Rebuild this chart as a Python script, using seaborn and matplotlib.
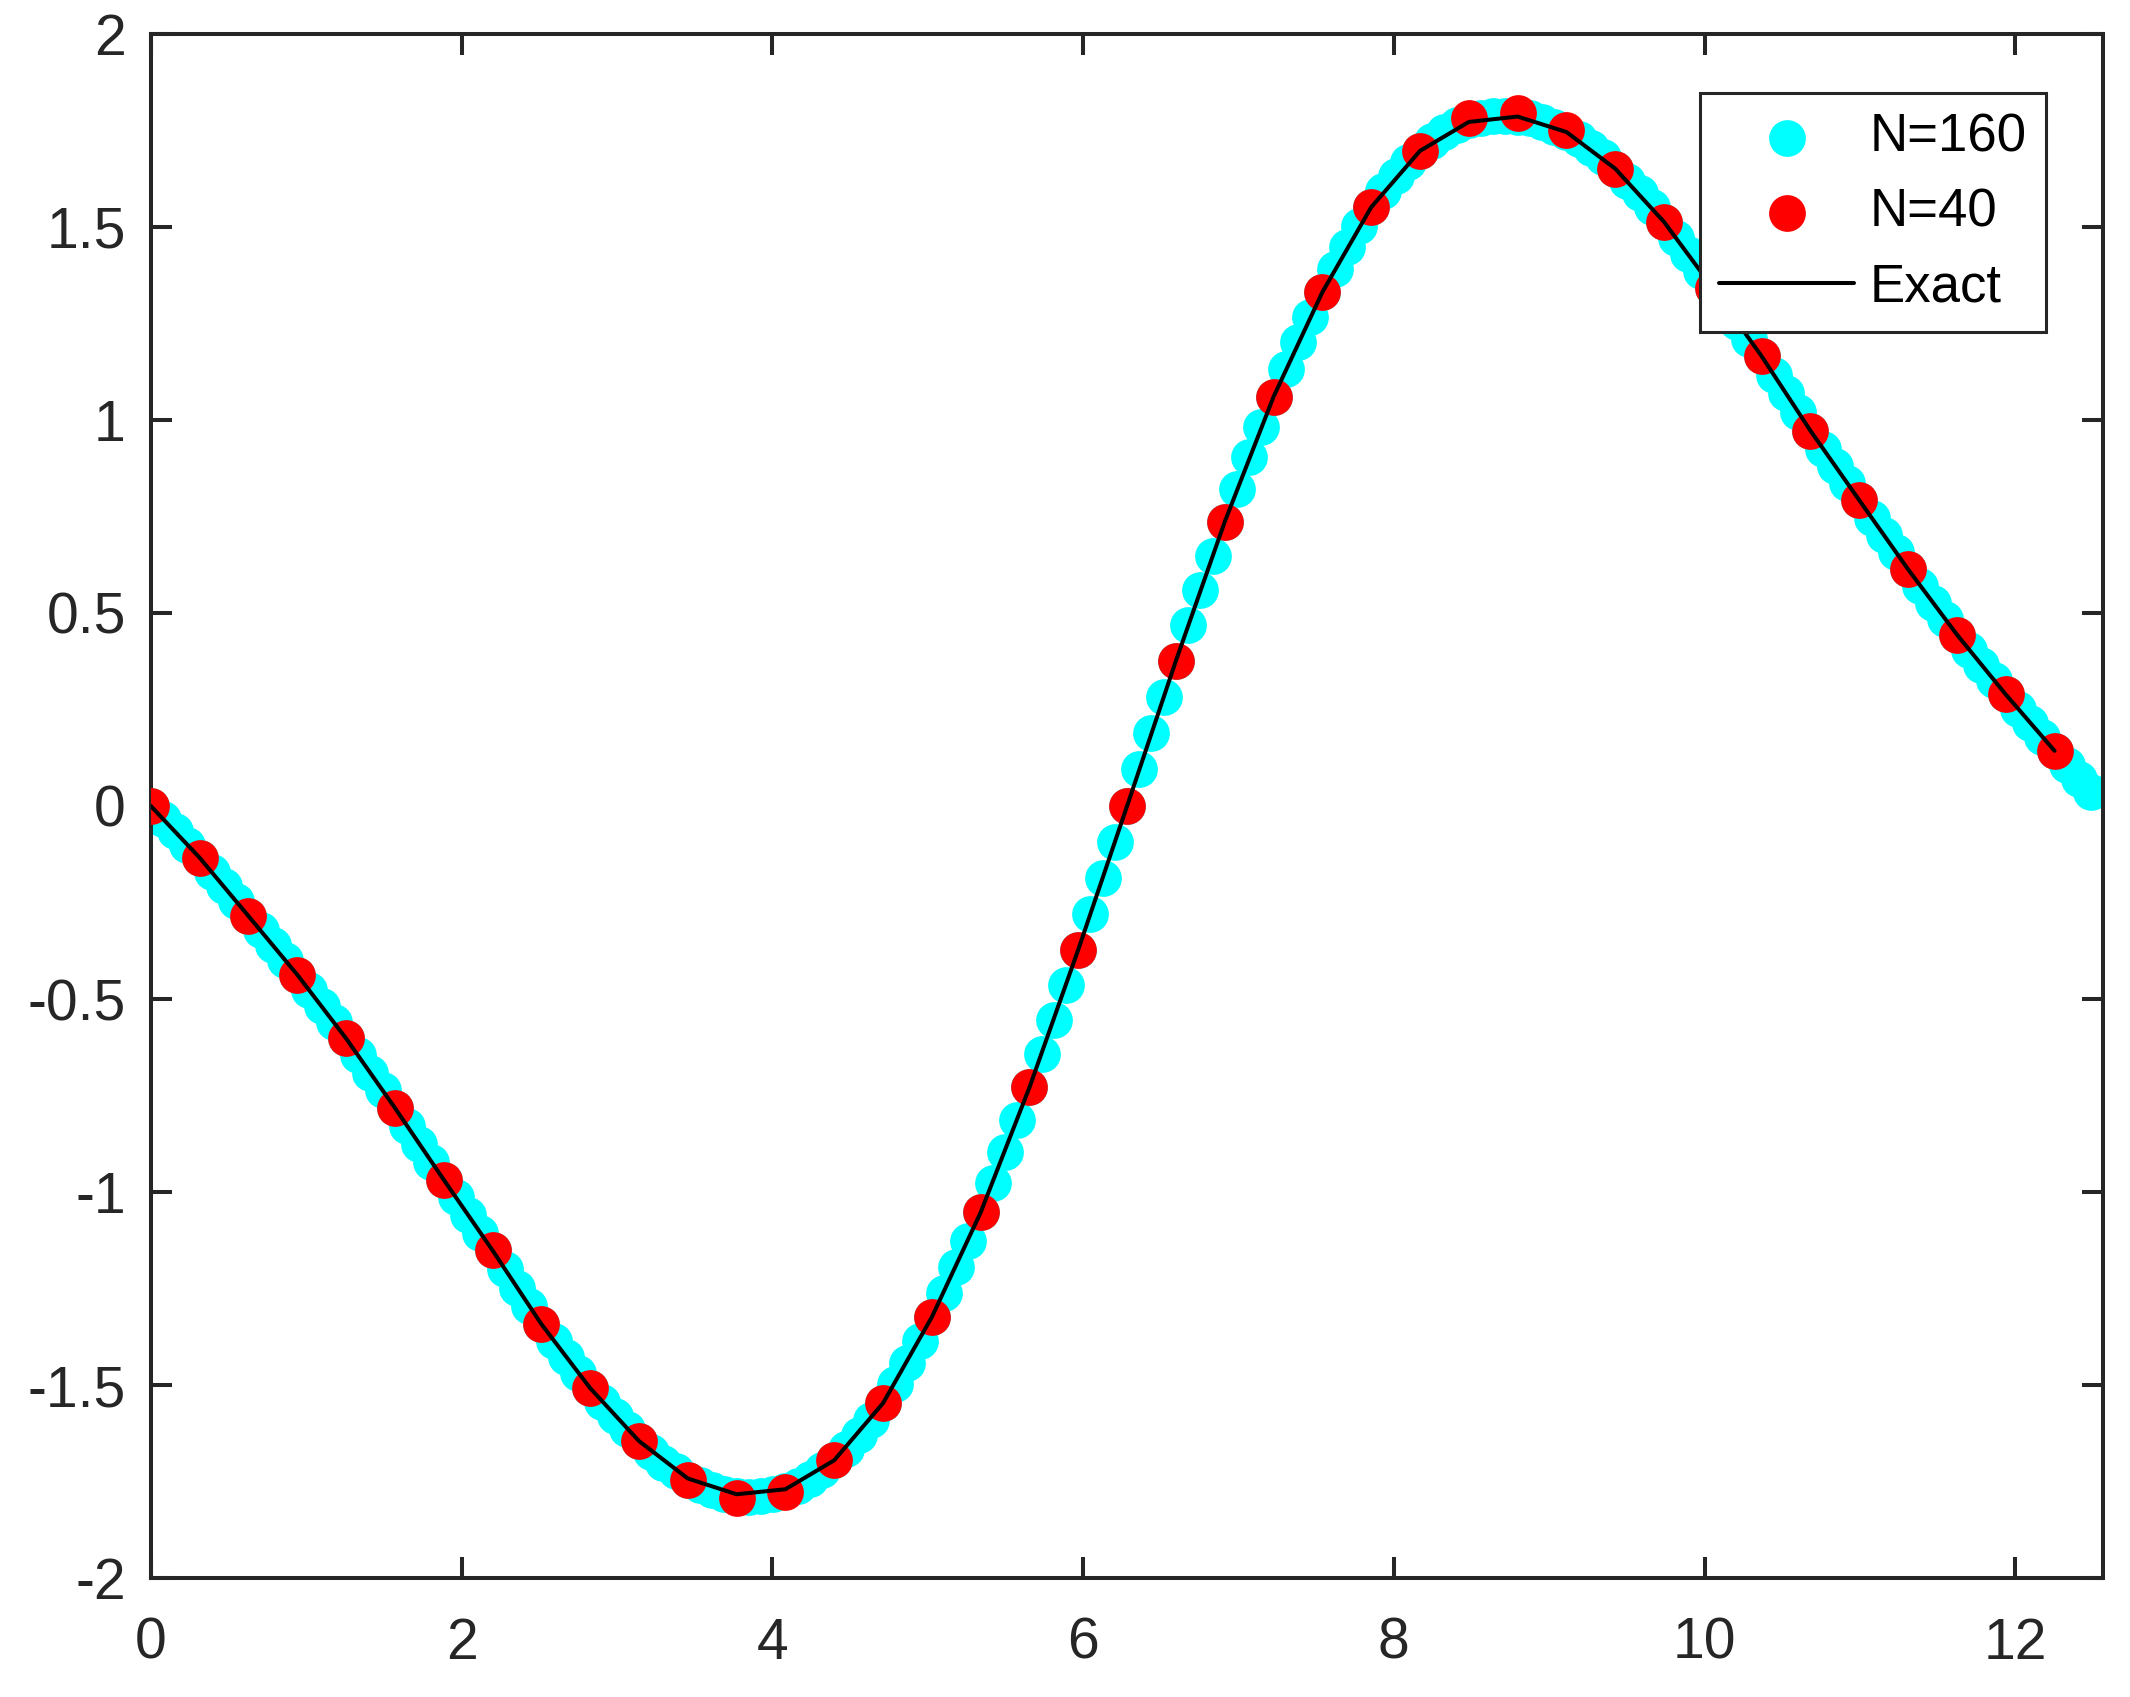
import numpy as np
import pandas as pd
import matplotlib
matplotlib.use("Agg")
import matplotlib.pyplot as plt
import seaborn as sns

# ------------------------------------------------------------------
# Data
# ------------------------------------------------------------------

L = 4 * np.pi

u_160 = [
    0.000, -0.033, -0.066, -0.100, -0.134, -0.171, -0.208, -0.246,
    -0.285, -0.322, -0.360, -0.398, -0.437, -0.477, -0.518, -0.560,
    -0.602, -0.646, -0.691, -0.736, -0.782, -0.829, -0.875, -0.922,
    -0.968, -1.014, -1.060, -1.105, -1.151, -1.200, -1.248, -1.295,
    -1.342, -1.386, -1.428, -1.469, -1.508, -1.545, -1.581, -1.614,
    -1.645, -1.674, -1.701, -1.724, -1.745, -1.760, -1.773, -1.782,
    -1.787, -1.789, -1.788, -1.783, -1.775, -1.762, -1.743, -1.721,
    -1.694, -1.665, -1.630, -1.591, -1.547, -1.497, -1.444, -1.386,
    -1.324, -1.261, -1.195, -1.126, -1.053, -0.976, -0.896, -0.814,
    -0.729, -0.642, -0.554, -0.463, -0.372, -0.280, -0.187, -0.093,
    0.000, 0.095, 0.189, 0.282, 0.376, 0.468, 0.559, 0.648,
    0.736, 0.821, 0.904, 0.983, 1.060, 1.133, 1.202, 1.268,
    1.331, 1.392, 1.449, 1.502, 1.551, 1.594, 1.633, 1.667,
    1.697, 1.723, 1.745, 1.763, 1.776, 1.783, 1.787, 1.788,
    1.786, 1.781, 1.773, 1.760, 1.746, 1.727, 1.705, 1.680,
    1.651, 1.620, 1.587, 1.551, 1.513, 1.472, 1.430, 1.387,
    1.342, 1.299, 1.255, 1.210, 1.165, 1.117, 1.069, 1.020,
    0.972, 0.926, 0.881, 0.836, 0.792, 0.747, 0.702, 0.657,
    0.613, 0.570, 0.527, 0.485, 0.444, 0.404, 0.365, 0.327,
    0.289, 0.252, 0.215, 0.179, 0.143, 0.106, 0.071, 0.037,
]

u_40 = [
    0.000, -0.134, -0.285, -0.437, -0.602, -0.782, -0.968, -1.151,
    -1.342, -1.508, -1.645, -1.745, -1.793, -1.777, -1.695, -1.547,
    -1.324, -1.053, -0.729, -0.372, 0.000, 0.376, 0.736, 1.060,
    1.331, 1.551, 1.697, 1.781, 1.795, 1.750, 1.651, 1.513,
    1.342, 1.165, 0.972, 0.792, 0.613, 0.444, 0.289, 0.143,
]

u_exact = [
    0.000, -0.134, -0.285, -0.437, -0.602, -0.782, -0.968, -1.151,
    -1.342, -1.508, -1.645, -1.742, -1.783, -1.770, -1.695, -1.547,
    -1.324, -1.053, -0.729, -0.372, 0.000, 0.376, 0.736, 1.060,
    1.331, 1.551, 1.697, 1.772, 1.786, 1.746, 1.651, 1.513,
    1.342, 1.165, 0.972, 0.792, 0.613, 0.444, 0.289, 0.143,
]

x_160 = np.linspace(0, L, len(u_160), endpoint=False)
x_40 = np.linspace(0, L, len(u_40), endpoint=False)

x_ticks = [0, 2, 4, 6, 8, 10, 12]
y_ticks = [-2, -1.5, -1, -0.5, 0, 0.5, 1, 1.5, 2]

df160 = pd.DataFrame({"x": x_160, "u": u_160})
df40 = pd.DataFrame({"x": x_40, "u": u_40, "exact": u_exact})

# ------------------------------------------------------------------
# Style
# ------------------------------------------------------------------

sns.set_theme(style="white")
plt.rcParams["font.family"] = ["Liberation Sans", "DejaVu Sans"]
plt.rcParams["axes.unicode_minus"] = False

AX_COLOR = "#262626"

fig = plt.figure(figsize=(21.3, 16.97), dpi=100)
ax = fig.add_axes([0.0708, 0.0701, 0.9167, 0.9099])

sns.scatterplot(data=df160, x="x", y="u", ax=ax, color="#00FFFF",
                s=700, linewidth=0, label="N=160", zorder=2)
sns.scatterplot(data=df40, x="x", y="u", ax=ax, color="#FF0000",
                s=700, linewidth=0, label="N=40", zorder=3)
sns.lineplot(data=df40, x="x", y="exact", ax=ax, color="black",
             linewidth=2.9, label="Exact", zorder=4)

ax.set_xlim(0, L)
ax.set_ylim(-2, 2)
ax.set_xticks(x_ticks)
ax.set_yticks(y_ticks)
ax.set_xticklabels([f"{t:g}" for t in x_ticks])
ax.set_yticklabels([f"{t:g}" for t in y_ticks])
ax.set_xlabel("")
ax.set_ylabel("")

for side in ["top", "bottom", "left", "right"]:
    ax.spines[side].set_visible(True)
    ax.spines[side].set_color(AX_COLOR)
    ax.spines[side].set_linewidth(2.9)

ax.tick_params(axis="both", which="major", direction="in", length=15,
               width=2.9, color=AX_COLOR, labelcolor=AX_COLOR,
               labelsize=41, top=True, right=True,
               bottom=True, left=True)
ax.tick_params(axis="x", pad=28)
ax.tick_params(axis="y", pad=18)

leg = ax.legend(loc="upper right", bbox_to_anchor=(0.9707, 0.9615),
                borderaxespad=0, fontsize=38, frameon=True, fancybox=False,
                handlelength=2.55, handletextpad=0.3, labelspacing=0.466,
                borderpad=0.37, markerscale=1.0)
leg.get_frame().set_edgecolor(AX_COLOR)
leg.get_frame().set_linewidth(2.2)
leg.get_frame().set_alpha(1)
for t in leg.get_texts():
    t.set_color("black")

fig.savefig("out.png", dpi=100)
